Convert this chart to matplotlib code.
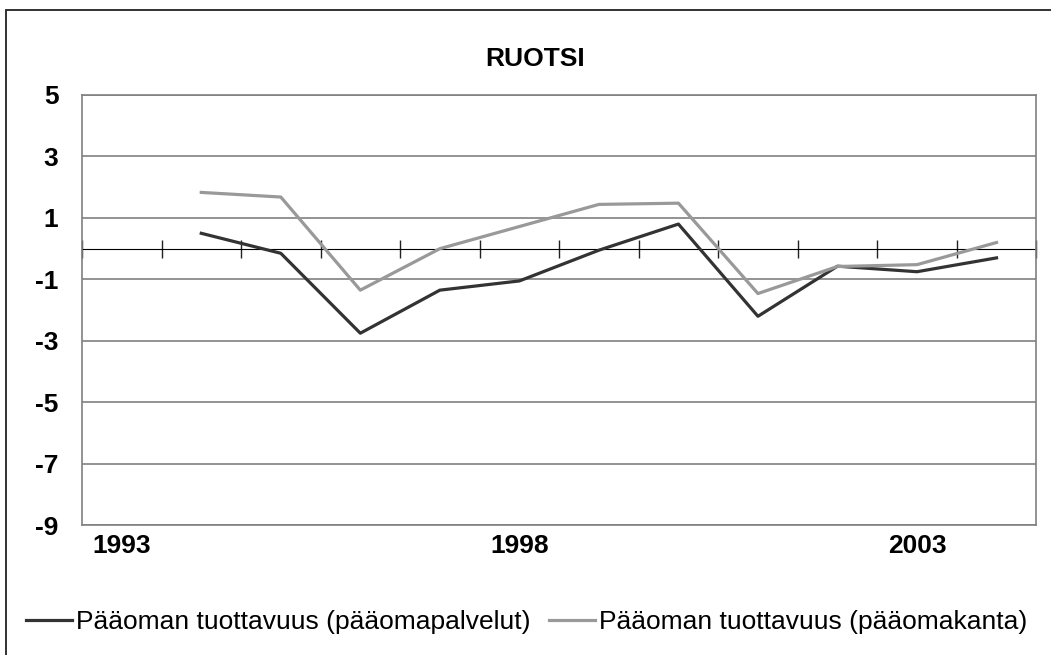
import numpy as np
import matplotlib
matplotlib.use('Agg')
import matplotlib.pyplot as plt
from matplotlib.patches import Rectangle

plt.rcParams['font.family'] = ['Liberation Sans', 'DejaVu Sans']
plt.rcParams['axes.unicode_minus'] = False

# data
years = [1993, 1994, 1995, 1996, 1997, 1998, 1999, 2000, 2001, 2002, 2003, 2004]
palvelut = [None, 0.5, -0.15, -2.75, -1.35, -1.05, -0.05, 0.8, -2.2, -0.57, -0.75, -0.3]
kanta = [None, 1.83, 1.68, -1.35, 0.0, 0.72, 1.44, 1.48, -1.46, -0.58, -0.52, 0.2]
year_labels = ['1993', '1998', '2003']
label_pos = [0, 5, 10]
yticks = [5, 3, 1, -1, -3, -5, -7, -9]

x = np.arange(len(years))
p1 = np.array([np.nan if v is None else v for v in palvelut], dtype=float)
p2 = np.array([np.nan if v is None else v for v in kanta], dtype=float)

fig = plt.figure(figsize=(10.51, 6.55), dpi=100)
ax = fig.add_axes([0.078, 0.198, 0.908, 0.657])

# outer frame of the chart area (right and bottom edges fall outside the picture)
fig.patches.append(Rectangle((0.006, -0.1), 1.2, 1.085, transform=fig.transFigure,
                             fill=False, edgecolor='#222222', linewidth=1.3))

ax.set_xlim(-0.5, len(years) - 0.5)
ax.set_ylim(-9, 5)
ax.set_yticks(yticks)
ax.yaxis.grid(True, color='#808080', linewidth=1.2)
ax.set_axisbelow(True)
for s in ax.spines.values():
    s.set_color('#808080')
    s.set_linewidth(1.2)

ax.plot(x, p1, color='#333333', linewidth=2.3, label='Pääoman tuottavuus (pääomapalvelut)')
ax.plot(x, p2, color='#999999', linewidth=2.3, label='Pääoman tuottavuus (pääomakanta)')

ax.set_xticks(label_pos)
ax.set_xticklabels(year_labels, fontweight='bold', fontsize=19)
ax.tick_params(axis='x', length=0, pad=6)
ax.tick_params(axis='y', length=0, pad=17, labelsize=19)
for t in ax.get_yticklabels():
    t.set_fontweight('bold')

# category axis crossing at zero
y0, y1 = ax.get_ylim()
sec = ax.secondary_xaxis((0 - y0) / (y1 - y0))
sec.set_xticks(np.arange(-0.5, len(years), 1.0))
sec.set_xticklabels([])
sec.tick_params(axis='x', direction='inout', length=12.5, width=1, color='#222222')
sec.spines['bottom'].set_color('#555555')
sec.spines['bottom'].set_linewidth(1.2)

# title sits over the centre of the whole chart area
ax.set_title('RUOTSI', fontweight='bold', fontsize=19, pad=21, x=0.475)

ax.legend(loc='center', bbox_to_anchor=(0.466, -0.225), ncol=2, frameon=False,
          fontsize=19, handlelength=1.75, handletextpad=0.15, columnspacing=0.7)

fig.savefig('out.png', dpi=100)
